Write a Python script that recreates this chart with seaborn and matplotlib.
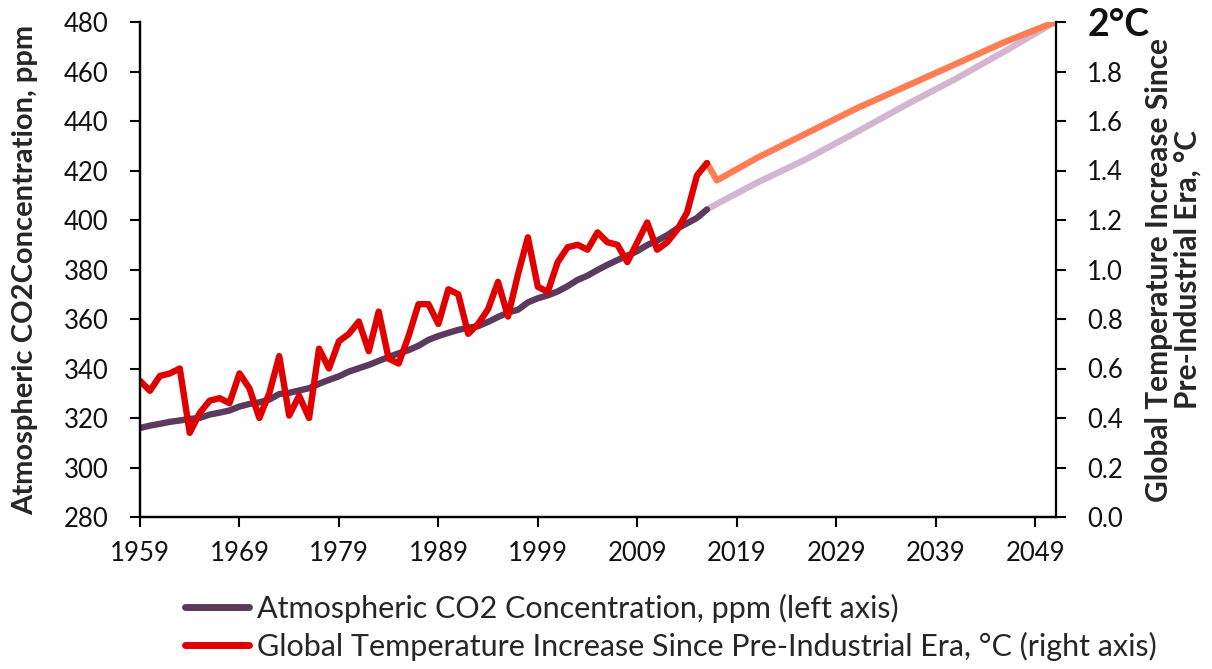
import matplotlib
matplotlib.use("Agg")
import matplotlib.pyplot as plt
from matplotlib.lines import Line2D
import seaborn as sns

# Observed record
years_obs = list(range(1959, 2017))
co2_obs = [315.97, 316.91, 317.64, 318.45, 318.99, 319.62, 320.04, 321.38, 322.16, 323.04,
           324.62, 325.68, 326.32, 327.45, 329.68, 330.18, 331.11, 332.04, 333.83, 335.40,
           336.84, 338.75, 340.11, 341.45, 343.05, 344.65, 346.12, 347.42, 349.19, 351.57,
           353.12, 354.39, 355.61, 356.45, 357.10, 358.83, 360.82, 362.61, 363.73, 366.70,
           368.38, 369.55, 371.14, 373.28, 375.80, 377.52, 379.80, 381.90, 383.79, 385.60,
           387.43, 389.90, 391.65, 393.85, 396.52, 398.65, 400.83, 404.24]
temp_obs = [0.55, 0.51, 0.57, 0.58, 0.60, 0.34, 0.42, 0.47, 0.48, 0.46,
            0.58, 0.52, 0.40, 0.50, 0.65, 0.41, 0.49, 0.40, 0.68, 0.60,
            0.71, 0.74, 0.79, 0.67, 0.83, 0.64, 0.62, 0.73, 0.86, 0.86,
            0.78, 0.92, 0.90, 0.74, 0.78, 0.84, 0.95, 0.81, 0.98, 1.13,
            0.93, 0.91, 1.03, 1.09, 1.10, 1.08, 1.15, 1.11, 1.10, 1.03,
            1.11, 1.19, 1.08, 1.11, 1.16, 1.23, 1.38, 1.43]

# Projections to mid-century
years_proj = [2016, 2017, 2021, 2026, 2031, 2036, 2041, 2046, 2051]
co2_proj = [404.24, 406.5, 415.0, 424.6, 435.4, 446.5, 457.0, 468.3, 480.0]
temp_proj = [1.43, 1.36, 1.45, 1.55, 1.65, 1.74, 1.83, 1.92, 2.00]

x_ticks = list(range(1959, 2050, 10))
left_ticks = list(range(280, 481, 20))
right_ticks = [0.0, 0.2, 0.4, 0.6, 0.8, 1.0, 1.2, 1.4, 1.6, 1.8, 2.0]
right_tick_labels = ["0.0", "0.2", "0.4", "0.6", "0.8", "1.0", "1.2", "1.4", "1.6", "1.8", "2°C"]

label_co2 = "Atmospheric CO2 Concentration, ppm (left axis)"
label_temp = "Global Temperature Increase Since Pre-Industrial Era, °C (right axis)"

c_co2 = "#5B3A5D"
c_co2_proj = "#D3B5CF"
c_temp = "#E00000"
c_temp_proj = "#FF7D52"

sns.set_style("ticks")
plt.rcParams["font.family"] = ["Lato", "DejaVu Sans"]

fig = plt.figure(figsize=(12.12, 6.69), dpi=100)
ax = fig.add_axes([140 / 1212, 1 - 517 / 669, 916 / 1212, 495 / 669])
ax2 = ax.twinx()

lw = 4.6
style = dict(solid_joinstyle="round", solid_capstyle="round", legend=False)
sns.lineplot(x=years_proj, y=co2_proj, ax=ax, color=c_co2_proj, linewidth=lw, **style)
sns.lineplot(x=years_obs, y=co2_obs, ax=ax, color=c_co2, linewidth=lw, **style)
sns.lineplot(x=years_proj, y=temp_proj, ax=ax2, color=c_temp_proj, linewidth=lw, **style)
sns.lineplot(x=years_obs, y=temp_obs, ax=ax2, color=c_temp, linewidth=lw, **style)

ax.set_xlim(1959, 2051.1)
ax.set_ylim(280, 480)
ax2.set_ylim(0, 2.0)

fs = 18.5
ax.set_xticks(x_ticks)
ax.set_xticklabels([str(t) for t in x_ticks], fontsize=fs)
ax.set_yticks(left_ticks)
ax.set_yticklabels([str(t) for t in left_ticks], fontsize=fs)
ax2.set_yticks(right_ticks)
ax2.set_yticklabels(right_tick_labels, fontsize=fs)
top_lbl = ax2.get_yticklabels()[-1]
top_lbl.set_fontsize(27)
top_lbl.set_fontweight("bold")

for a in (ax, ax2):
    for s in a.spines.values():
        s.set_linewidth(1.6)
        s.set_color("black")
    a.spines["top"].set_visible(False)
    a.tick_params(axis="both", length=7, width=1.5, color="black", labelcolor="#111111")
    a.tick_params(axis="y", pad=15.5)
ax.spines["right"].set_visible(False)
ax.tick_params(axis="x", pad=10.5)

ax.set_xlabel("")
ax.set_ylabel("Atmospheric CO2Concentration, ppm", fontsize=21, fontweight="bold")
ax.yaxis.set_label_coords(-0.111, 0.5)
ax2.set_ylabel("Global Temperature Increase Since\nPre-Industrial Era, °C",
               fontsize=21.5, fontweight="bold", rotation=90, linespacing=1.05)
ax2.yaxis.set_label_coords(1.097, 0.5)

lfs = 22
handles = [Line2D([0], [0], color=c_co2, linewidth=5, solid_capstyle="round"),
           Line2D([0], [0], color=c_temp, linewidth=5, solid_capstyle="round")]
fig.legend(handles, [label_co2, label_temp], loc="upper left",
           bbox_to_anchor=(185 / 1212, 1 - 594 / 669), frameon=False,
           fontsize=lfs, handlelength=2.1, handletextpad=0.26, labelspacing=0.28,
           borderaxespad=0, borderpad=0)

fig.savefig("out.png", dpi=100)
